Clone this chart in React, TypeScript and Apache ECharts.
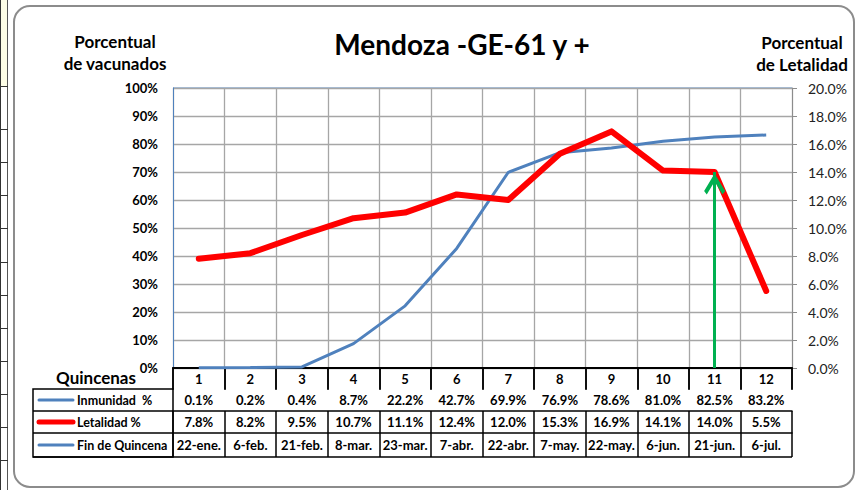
import React, { useEffect, useRef } from "react";
import * as echarts from "echarts";

const catNums = ["1", "2", "3", "4", "5", "6", "7", "8", "9", "10", "11", "12"];
const inmunidad = [0.1, 0.2, 0.4, 8.7, 22.2, 42.7, 69.9, 76.9, 78.6, 81.0, 82.5, 83.2];
const letalidad = [7.8, 8.2, 9.5, 10.7, 11.1, 12.4, 12.0, 15.3, 16.9, 14.1, 14.0, 5.5];
const fechas = ["22-ene.", "6-feb.", "21-feb.", "8-mar.", "23-mar.", "7-abr.", "22-abr.", "7-may.", "22-may.", "6-jun.", "21-jun.", "6-jul."];
const rowLabels = ["Inmunidad  %", "Letalidad %", "Fin de Quincena"];
const arrowCategory = "11";
const arrowValue = 14.0;
const sheetLines = [86, 129, 162, 195, 228, 262, 295, 328, 361, 394, 427, 460];

const FONT = "Lato, 'Open Sans', sans-serif";
const GL = 173, GR = 792, GT = 88, GB = 368;
const W = 860, H = 490;

export default function App() {
  const ref = useRef<HTMLDivElement>(null);
  useEffect(() => {
    if (!ref.current) return;
    const chart = echarts.init(ref.current, undefined, { renderer: "svg" });
    const bold13 = { fontFamily: FONT, fontWeight: "bold" as const, fontSize: 13, color: "#000" };
    const rowAxis = (data: string[], offset: number, tickLen: number, margin: number, lineW: number) => ({
      type: "category",
      data,
      position: "bottom",
      offset,
      boundaryGap: true,
      axisLine: { show: true, lineStyle: { color: "#000", width: lineW } },
      axisTick: { show: true, length: tickLen, interval: 0, lineStyle: { color: "#000", width: 1.5 } },
      axisLabel: { show: true, interval: 0, margin, ...bold13 },
      splitLine: { show: false },
    });
    const xAxes: any[] = [
      {
        ...rowAxis(catNums, 0, 21, 4, 2.2),
        splitLine: { show: true, interval: 0, lineStyle: { color: "#a6a6a6", width: 1.3 } },
      },
      rowAxis(inmunidad.map((v) => v.toFixed(1) + "%"), 21, 22, 4, 1.5),
      rowAxis(letalidad.map((v) => v.toFixed(1) + "%"), 43, 22, 4, 1.5),
      rowAxis(fechas, 65, 24, 5, 1.5),
    ];
    const rowYs = [400, 422, 445];
    const keyColors = ["#4f81bd", "#ff0000", "#4f81bd"];
    const keyWidths = [3, 5, 3];
    const graphics: any[] = [
      { type: "rect", shape: { x: 0, y: 0, width: 7, height: 86 }, style: { fill: "#fdfde6" }, silent: true },
      { type: "line", shape: { x1: 0.5, y1: 0, x2: 0.5, y2: H }, style: { stroke: "#333", lineWidth: 1 }, silent: true },
      { type: "line", shape: { x1: 7.5, y1: 0, x2: 7.5, y2: H }, style: { stroke: "#555", lineWidth: 1 }, silent: true },
      ...sheetLines.map((y) => ({ type: "line", shape: { x1: 0, y1: y + 0.5, x2: 8, y2: y + 0.5 }, style: { stroke: "#333", lineWidth: 1 }, silent: true })),
      { type: "rect", shape: { x: 14, y: 6, width: 840, height: 481, r: 16 }, style: { fill: "none", stroke: "#8c8c8c", lineWidth: 2 }, silent: true },
      { type: "line", shape: { x1: GL, y1: GT, x2: GR, y2: GT }, style: { stroke: "#4f81bd", lineWidth: 1 }, silent: true },
      { type: "rect", shape: { x: 33, y: 389, width: GL - 33, height: 68 }, style: { fill: "none", stroke: "#000", lineWidth: 1.5 }, silent: true },
      { type: "line", shape: { x1: 33, y1: 411, x2: GL, y2: 411 }, style: { stroke: "#000", lineWidth: 1.5 }, silent: true },
      { type: "line", shape: { x1: 33, y1: 433, x2: GL, y2: 433 }, style: { stroke: "#000", lineWidth: 1.5 }, silent: true },
      { type: "line", shape: { x1: 33, y1: 457, x2: GR, y2: 457 }, style: { stroke: "#000", lineWidth: 1.5 }, silent: true },
      ...rowYs.map((y, i) => ({ type: "line", shape: { x1: 39, y1: y, x2: 73, y2: y }, style: { stroke: keyColors[i], lineWidth: keyWidths[i], lineCap: "round" }, silent: true })),
      ...rowYs.map((y, i) => ({ type: "text", x: 77, y: y, style: { text: rowLabels[i], font: `bold 12.5px ${FONT}`, fill: "#000", align: "left", verticalAlign: "middle" }, silent: true })),
      { type: "text", x: 96, y: 377, style: { text: "Quincenas", font: `bold 17px ${FONT}`, fill: "#000", align: "center", verticalAlign: "middle" }, silent: true },
      { type: "text", x: 115, y: 41, style: { text: "Porcentual", font: `bold 17px ${FONT}`, fill: "#000", align: "center", verticalAlign: "middle" }, silent: true },
      { type: "text", x: 115, y: 63, style: { text: "de vacunados", font: `bold 17px ${FONT}`, fill: "#000", align: "center", verticalAlign: "middle" }, silent: true },
      { type: "text", x: 802, y: 42, style: { text: "Porcentual", font: `bold 17px ${FONT}`, fill: "#000", align: "center", verticalAlign: "middle" }, silent: true },
      { type: "text", x: 802, y: 64, style: { text: "de Letalidad", font: `bold 17px ${FONT}`, fill: "#000", align: "center", verticalAlign: "middle" }, silent: true },
    ];
    chart.setOption({
      animation: false,
      backgroundColor: "#fff",
      title: {
        text: "Mendoza -GE-61 y +",
        left: 457,
        top: 25,
        textAlign: "center",
        textStyle: { fontFamily: FONT, fontWeight: "bold", fontSize: 28, color: "#000" },
      },
      grid: { left: GL, right: W - GR, top: GT, bottom: H - GB, containLabel: false },
      xAxis: xAxes,
      yAxis: [
        {
          type: "value",
          min: 0,
          max: 100,
          interval: 10,
          axisLine: { show: true, lineStyle: { color: "#4f81bd", width: 1 } },
          axisTick: { show: false },
          axisLabel: { margin: 15, formatter: (v: number) => `${v}%`, ...bold13 },
          splitLine: { show: true, lineStyle: { color: "#a6a6a6", width: 1.3 } },
        },
        {
          type: "value",
          min: 0,
          max: 20,
          interval: 2,
          position: "right",
          axisLine: { show: true, lineStyle: { color: "#8c8c8c", width: 1 } },
          axisTick: { show: true, inside: false, length: 5, lineStyle: { color: "#8c8c8c" } },
          axisLabel: { margin: 16, formatter: (v: number) => `${v.toFixed(1)}%`, fontFamily: FONT, fontSize: 14, color: "#222" },
          splitLine: { show: false },
        },
      ],
      series: [
        {
          name: "Inmunidad  %",
          type: "line",
          xAxisIndex: 0,
          yAxisIndex: 0,
          data: inmunidad,
          showSymbol: false,
          symbol: "none",
          z: 2,
          lineStyle: { color: "#4f81bd", width: 3 },
          itemStyle: { color: "#4f81bd" },
        },
        {
          name: "Letalidad %",
          type: "line",
          xAxisIndex: 0,
          yAxisIndex: 1,
          data: letalidad,
          showSymbol: false,
          symbol: "none",
          z: 3,
          lineStyle: { color: "#ff0000", width: 6, cap: "round", join: "round" },
          itemStyle: { color: "#ff0000" },
        },
        {
          name: "Flecha",
          type: "line",
          xAxisIndex: 0,
          yAxisIndex: 1,
          data: [],
          z: 4,
          silent: true,
          markLine: {
            silent: true,
            animation: false,
            symbol: ["none", "none"],
            label: { show: false },
            lineStyle: { color: "#00b050", width: 3, type: "solid" },
            data: [[{ coord: [arrowCategory, 0] }, { coord: [arrowCategory, arrowValue] }]],
          },
        },
        {
          name: "Punta",
          type: "scatter",
          xAxisIndex: 0,
          yAxisIndex: 1,
          data: [[arrowCategory, arrowValue]],
          symbol: "path://M0,10 L10,0 L20,10 L17.5,12 L10,4.5 L2.5,12 Z",
          symbolSize: [21, 21],
          symbolOffset: [0, 12],
          z: 5,
          silent: true,
          itemStyle: { color: "#00b050", opacity: 1 },
        },
      ],
      graphic: graphics,
    });
    return () => chart.dispose();
  }, []);
  return <div ref={ref} style={{ position: "absolute", left: 0, top: 0, width: W, height: H }} />;
}
